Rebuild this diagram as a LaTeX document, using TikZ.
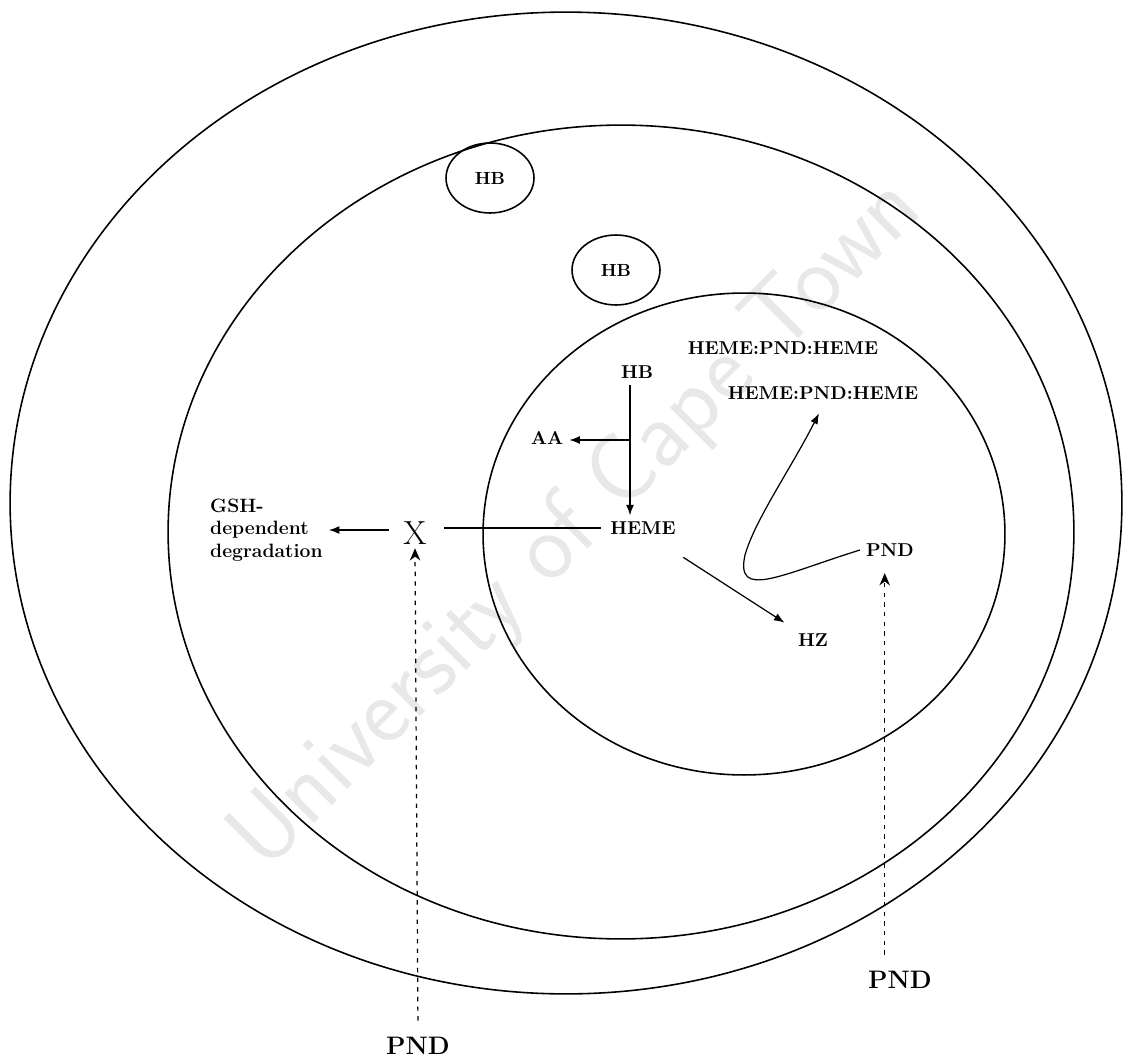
\documentclass[tikz,border=0pt]{standalone}
\usepackage{tikz}
\usetikzlibrary{shapes.geometric, arrows.meta, positioning}

\begin{document}
\begin{tikzpicture}[
  x=0.02cm, y=-0.02cm,
  cell/.style={draw, line width=0.9pt},
  hbcell/.style={ellipse, draw, line width=0.9pt, minimum width=1.76cm, minimum height=1.4cm, inner sep=0pt, font=\bfseries},
  lbl/.style={font=\bfseries\fontsize{10.6}{12}\selectfont},
  biglbl/.style={font=\bfseries\fontsize{14.4}{16}\selectfont},
  arrow/.style={-{Latex[length=6pt,width=4.5pt]}, line width=0.7pt},
  dasharrow/.style={-{Stealth[length=7pt,width=6pt]}, line width=0.7pt, dash pattern=on 2.5pt off 3pt}
]
\useasboundingbox (0,0) rectangle (1127,1062);

% watermark
\node[rotate=45, text=black!9, font=\sffamily\fontsize{55}{60}\selectfont] (wm) at (578,525) {University of Cape Town};

% compartments
\draw[cell] (566,503) ellipse [x radius=11.12cm, y radius=9.82cm];
\draw[cell] (621,532) ellipse [x radius=9.06cm, y radius=8.14cm];
\draw[cell] (744,534) ellipse [x radius=5.22cm, y radius=4.82cm];
\node[hbcell] (hbA) at (490,178) {HB};
\node[hbcell] (hbB) at (616,270) {HB};

% labels
\node[lbl] (hb) at (637,372) {HB};
\node[lbl] (aa) at (547,438) {AA};
\node[lbl] (heme) at (643,528) {HEME};
\node[lbl] (hph1) at (783,348) {HEME:PND:HEME};
\node[lbl] (hph2) at (823,393) {HEME:PND:HEME};
\node[lbl] (pndIn) at (890,550) {PND};
\node[lbl] (hz) at (813,640) {HZ};
\node[font=\fontsize{19}{20}\selectfont, inner sep=2pt] (x) at (415,533) {X};
\node[font=\bfseries\fontsize{11}{12.8}\selectfont, align=left, anchor=west] (gsh) at (204,530) {GSH-\\dependent\\degradation};
\node[biglbl] (pndL) at (418,1046) {PND};
\node[biglbl] (pndR) at (900,980) {PND};

% connectors
\coordinate (br) at (630,440);
\draw[arrow] (hb.south -| br) -- (heme.north -| br);
\draw[arrow] (br) -- (br -| aa.east);
\draw[line width=0.7pt, shorten <=2pt, shorten >=8pt] (heme.west) -- (x.east |- heme.west);
\draw[arrow, shorten <=6pt] (x.west |- gsh.east) -- (gsh.east);
\draw[arrow, shorten <=1pt, shorten >=5pt] ([yshift=-9pt]heme.south east) -- (hz.north west);
\draw[arrow, shorten >=5pt] (pndIn.west) .. controls (780,575) and (735,600) .. (745,555)
  .. controls (755,520) and (790,470) .. (hph2.south);
\draw[dasharrow, shorten <=6pt] (pndL.north) -- (x.south);
\draw[dasharrow, shorten <=6pt, shorten >=6pt] ([xshift=-3pt]pndR.north -| pndIn.south) -- ([xshift=-3pt]pndIn.south);
\end{tikzpicture}
\end{document}
